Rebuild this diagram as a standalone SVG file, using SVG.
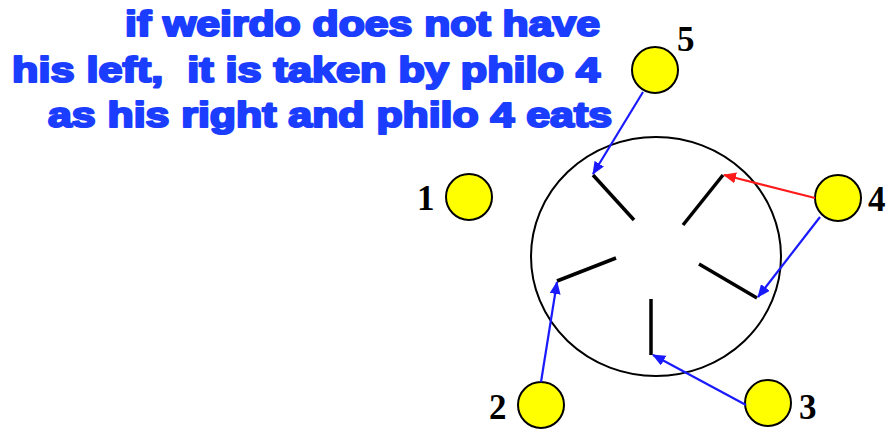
<svg xmlns="http://www.w3.org/2000/svg" width="887" height="429" viewBox="0 0 887 429">
<style>
.cap{font-family:"Liberation Sans",Arial,sans-serif;font-weight:bold;font-size:35px;fill:#1a3dff;stroke:#1a3dff;stroke-width:2.2;stroke-linejoin:round;white-space:pre}
.num{font-family:"Liberation Serif","Times New Roman",serif;font-weight:bold;font-size:35px;fill:#000}
.phil{fill:#ffff00;stroke:#000;stroke-width:2}
.fork{stroke:#000;stroke-width:3.5;stroke-linecap:butt}
.blue{stroke:#1a1aff;stroke-width:2.2;fill:none}
.red{stroke:#ff1a1a;stroke-width:2.2;fill:none}
</style>
<defs>
<marker id="ab" viewBox="0 0 13 11" refX="12" refY="5.5" markerWidth="13" markerHeight="11" markerUnits="userSpaceOnUse" orient="auto"><path d="M0,0 L13,5.5 L0,11 z" fill="#1a1aff"/></marker>
<marker id="ar" viewBox="0 0 13 11" refX="12" refY="5.5" markerWidth="13" markerHeight="11" markerUnits="userSpaceOnUse" orient="auto"><path d="M0,0 L13,5.5 L0,11 z" fill="#ff1a1a"/></marker>
</defs>
<rect width="887" height="429" fill="#fff"/>
<g id="caption">
<text class="cap" x="125" y="36" textLength="475" lengthAdjust="spacingAndGlyphs">if weirdo does not have</text>
<text class="cap" x="12" y="82" textLength="588" lengthAdjust="spacingAndGlyphs">his left,  it is taken by philo 4</text>
<text class="cap" x="48" y="127" textLength="564" lengthAdjust="spacingAndGlyphs">as his right and philo 4 eats</text>
</g>
<g id="table">
<ellipse cx="656" cy="256.5" rx="125" ry="119.5" fill="none" stroke="#000" stroke-width="2"/>
</g>
<g id="forks">
<line class="fork" x1="593" y1="175" x2="634" y2="220"/>
<line class="fork" x1="723" y1="175" x2="683" y2="225"/>
<line class="fork" x1="699" y1="264" x2="757" y2="298"/>
<line class="fork" x1="651" y1="299" x2="651" y2="355"/>
<line class="fork" x1="616" y1="258" x2="557" y2="281"/>
</g>
<g id="philo1"><circle class="phil" cx="469" cy="197" r="23"/><text class="num" x="417" y="210">1</text></g>
<g id="philo2"><circle class="phil" cx="541" cy="405" r="23"/><text class="num" x="489" y="419">2</text></g>
<g id="philo3"><circle class="phil" cx="768" cy="403" r="23"/><text class="num" x="799" y="419">3</text></g>
<g id="philo4"><circle class="phil" cx="838" cy="198" r="23"/><text class="num" x="868" y="211">4</text></g>
<g id="philo5"><circle class="phil" cx="655" cy="70" r="23"/><text class="num" x="677" y="51">5</text></g>
<g id="connectors">
<line class="blue" x1="643" y1="92" x2="593" y2="174" marker-end="url(#ab)"/>
<line class="red" x1="815" y1="198" x2="724" y2="175" marker-end="url(#ar)"/>
<line class="blue" x1="820" y1="217" x2="758" y2="297" marker-end="url(#ab)"/>
<line class="blue" x1="541" y1="382" x2="557" y2="282" marker-end="url(#ab)"/>
<line class="blue" x1="746" y1="405" x2="653" y2="355" marker-end="url(#ab)"/>
</g>
</svg>
